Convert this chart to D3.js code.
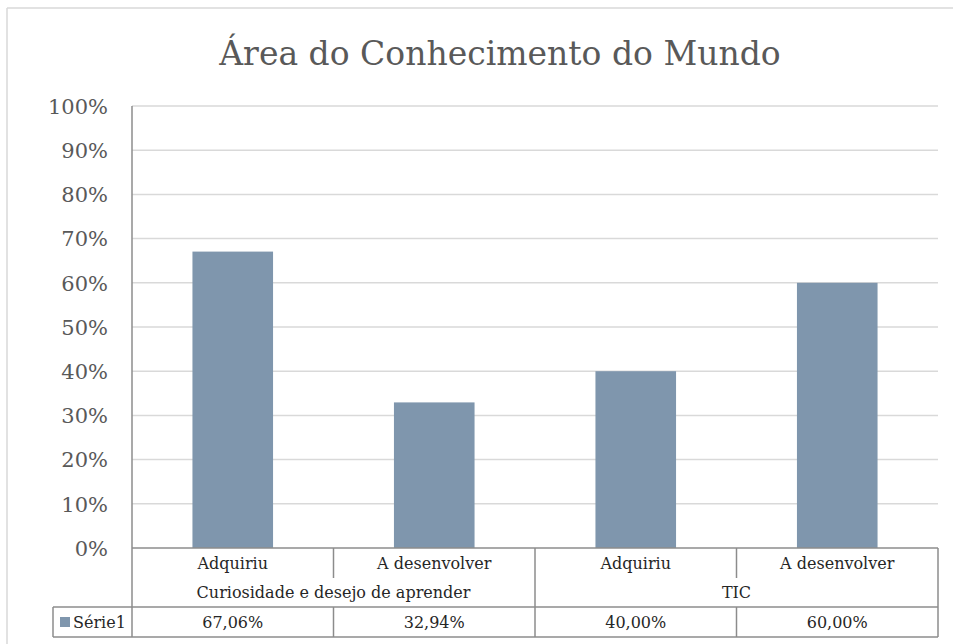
<!DOCTYPE html>
<html><head><meta charset="utf-8">
<script src="https://cdn.jsdelivr.net/npm/d3@7"></script>
<style>
html,body{margin:0;padding:0;background:#fff;overflow:hidden}
svg{display:block}
text{font-family:"DejaVu Serif","Liberation Serif",serif}
</style></head><body>
<svg id="chart" width="953" height="644"></svg>
<script>
const title = "Área do Conhecimento do Mundo";
const categories = ["Adquiriu","A desenvolver","Adquiriu","A desenvolver"];
const groups = ["Curiosidade e desejo de aprender","TIC"];
const groupSizes = [2,2];
const values = [0.6706,0.3294,0.40,0.60];
const valueLabels = ["67,06%","32,94%","40,00%","60,00%"];
const tickValues = [0,0.1,0.2,0.3,0.4,0.5,0.6,0.7,0.8,0.9,1.0];
const seriesName = "Série1";

const svg = d3.select("#chart");
const L = 132, R = 938, T = 106, B = 548;
const row1 = 578, row2 = 607, row3 = 637, legendLeft = 53;
const barColor = "#7f96ad", lineColor = "#8c8c8c", gridColor = "#d9d9d9";

// outer border (only top and left edges fall inside the picture)
svg.append("line").attr("x1",7).attr("x2",953).attr("y1",8).attr("y2",8)
  .attr("stroke",gridColor).attr("stroke-width",1.5);
svg.append("line").attr("x1",7).attr("x2",7).attr("y1",8).attr("y2",644)
  .attr("stroke",gridColor).attr("stroke-width",1.5);

svg.append("text").attr("x",500).attr("y",65).attr("text-anchor","middle")
  .attr("font-size",33).attr("fill","#595959").text(title);

const x = d3.scaleBand().domain(d3.range(categories.length)).range([L,R])
  .paddingInner(0.6).paddingOuter(0.3);
const y = d3.scaleLinear().domain([0,1]).range([B,T]);

svg.append("g").selectAll("line").data(tickValues.filter(d=>d>0)).join("line")
  .attr("x1",L).attr("x2",R).attr("y1",d=>y(d)).attr("y2",d=>y(d))
  .attr("stroke",gridColor).attr("stroke-width",1.5);

const yAxis = d3.axisLeft(y).tickValues(tickValues).tickFormat(d3.format(".0%")).tickSize(0).tickPadding(24);
const gy = svg.append("g").attr("transform",`translate(${L},0)`).call(yAxis);
gy.select(".domain").remove();
gy.attr("font-family",null).attr("font-size",null);
gy.selectAll("text").attr("font-size",21).attr("fill","#595959").attr("dy","0.35em");

svg.append("g").selectAll("rect").data(values).join("rect")
  .attr("x",(d,i)=>x(i)).attr("width",x.bandwidth())
  .attr("y",d=>y(d)).attr("height",d=>y(0)-y(d)).attr("fill",barColor);

const step = x.step();
const edges = d3.range(categories.length+1).map(i=> i===0?L:(i===categories.length?R:x(i)-x.paddingInner()*step/2));
const gl = svg.append("g").attr("stroke",lineColor).attr("stroke-width",1.5).attr("fill","none");
gl.append("line").attr("x1",L).attr("x2",L).attr("y1",T).attr("y2",row3);
gl.append("line").attr("x1",L).attr("x2",R).attr("y1",B).attr("y2",B);
gl.append("line").attr("x1",legendLeft).attr("x2",R).attr("y1",row2).attr("y2",row2);
gl.append("line").attr("x1",legendLeft).attr("x2",R).attr("y1",row3).attr("y2",row3);
gl.append("line").attr("x1",legendLeft).attr("x2",legendLeft).attr("y1",row2).attr("y2",row3);
gl.append("line").attr("x1",R).attr("x2",R).attr("y1",B).attr("y2",row3);
let acc = 0; const groupEdges = [];
groupSizes.forEach(s=>{acc+=s; groupEdges.push(acc);});
edges.forEach((ex,i)=>{
  if(i===0||i===categories.length) return;
  if(groupEdges.includes(i)){
    gl.append("line").attr("x1",ex).attr("x2",ex).attr("y1",B).attr("y2",row3);
  } else {
    gl.append("line").attr("x1",ex).attr("x2",ex).attr("y1",B).attr("y2",row1);
    gl.append("line").attr("x1",ex).attr("x2",ex).attr("y1",row2).attr("y2",row3);
  }
});

const tfs = 16, tcol = "#262626";
svg.append("g").selectAll("text").data(categories).join("text")
  .attr("x",(d,i)=>x(i)+x.bandwidth()/2).attr("y",569).attr("text-anchor","middle")
  .attr("font-size",tfs).attr("fill",tcol).text(d=>d);
let start = 0;
groups.forEach((g,gi)=>{
  const a = edges[start], b = edges[start+groupSizes[gi]];
  svg.append("text").attr("x",(a+b)/2).attr("y",598).attr("text-anchor","middle")
    .attr("font-size",tfs).attr("fill",tcol).text(g);
  start += groupSizes[gi];
});
svg.append("g").selectAll("text").data(valueLabels).join("text")
  .attr("x",(d,i)=>x(i)+x.bandwidth()/2).attr("y",628).attr("text-anchor","middle")
  .attr("font-size",tfs).attr("fill",tcol).text(d=>d);
svg.append("rect").attr("x",60).attr("y",617).attr("width",10).attr("height",10).attr("fill",barColor);
svg.append("text").attr("x",73).attr("y",628).attr("font-size",tfs).attr("fill",tcol).text(seriesName);
</script></body></html>
